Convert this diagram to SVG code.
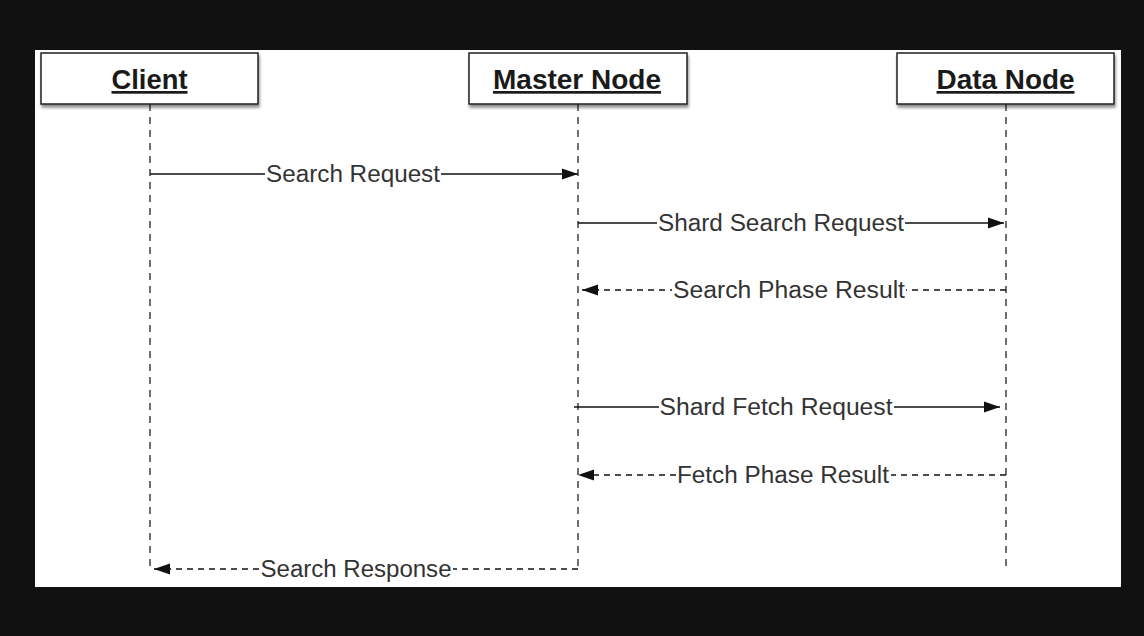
<svg xmlns="http://www.w3.org/2000/svg" width="1144" height="636" viewBox="0 0 1144 636">
<defs>
<marker id="ah" viewBox="0 0 16 12" refX="16" refY="6" markerWidth="16" markerHeight="12" markerUnits="userSpaceOnUse" orient="auto">
<path d="M0,0.5 L16,6 L0,11.5 Z" fill="#111"/>
</marker>
<filter id="sh" x="-5%" y="-10%" width="115%" height="140%">
<feGaussianBlur in="SourceAlpha" stdDeviation="1.5"/>
<feOffset dx="1" dy="3"/>
<feComponentTransfer><feFuncA type="linear" slope="0.45"/></feComponentTransfer>
<feMerge><feMergeNode/><feMergeNode in="SourceGraphic"/></feMerge>
</filter>
</defs>
<style>
.box{fill:#fff;stroke:#222;stroke-width:1.5}
.title{font-family:"Liberation Sans",Arial,sans-serif;font-size:27px;font-weight:bold;fill:#1a1a1a;text-anchor:middle;text-decoration:underline}
.life{stroke:#222;stroke-width:1.3;stroke-dasharray:7 6;fill:none}
.msg{stroke:#111;stroke-width:1.3;fill:none}
.ret{stroke:#111;stroke-width:1.3;fill:none;stroke-dasharray:6 5}
.lbl{font-family:"Liberation Sans",Arial,sans-serif;font-size:23px;fill:#333;text-anchor:middle}
.bg{fill:#fff}
</style>
<rect width="1144" height="636" fill="#111"/>
<rect x="35" y="50" width="1086" height="537" fill="#fff"/>
<g id="lifelines">
<line class="life" x1="150" y1="104" x2="150" y2="570"/>
<line class="life" x1="578" y1="104" x2="578" y2="570"/>
<line class="life" x1="1006" y1="104" x2="1006" y2="572"/>
</g>
<g id="client">
<rect class="box" x="41" y="53" width="217" height="51" filter="url(#sh)"/>
<text class="title" x="149.5" y="89" textLength="76" lengthAdjust="spacingAndGlyphs">Client</text>
</g>
<g id="master">
<rect class="box" x="469" y="53" width="218" height="51" filter="url(#sh)"/>
<text class="title" x="577" y="89" textLength="168" lengthAdjust="spacingAndGlyphs">Master Node</text>
</g>
<g id="data">
<rect class="box" x="897" y="53" width="217" height="51" filter="url(#sh)"/>
<text class="title" x="1005.5" y="89" textLength="138" lengthAdjust="spacingAndGlyphs">Data Node</text>
</g>
<g id="connectors">
<line class="msg" x1="150" y1="174" x2="578" y2="174" marker-end="url(#ah)"/>
<rect class="bg" x="265" y="162" width="176" height="24"/>
<text class="lbl" x="353" y="182" textLength="174" lengthAdjust="spacingAndGlyphs">Search Request</text>

<line class="msg" x1="578" y1="223" x2="1004" y2="223" marker-end="url(#ah)"/>
<rect class="bg" x="657" y="211" width="248" height="24"/>
<text class="lbl" x="781" y="231" textLength="246" lengthAdjust="spacingAndGlyphs">Shard Search Request</text>

<line class="ret" x1="1006" y1="290" x2="582" y2="290" marker-end="url(#ah)"/>
<rect class="bg" x="672" y="278" width="234" height="24"/>
<text class="lbl" x="789" y="298" textLength="232" lengthAdjust="spacingAndGlyphs">Search Phase Result</text>

<line class="msg" x1="574" y1="407" x2="1000" y2="407" marker-end="url(#ah)"/>
<rect class="bg" x="659" y="395" width="235" height="24"/>
<text class="lbl" x="776" y="415" textLength="233" lengthAdjust="spacingAndGlyphs">Shard Fetch Request</text>

<line class="ret" x1="1006" y1="475" x2="578" y2="475" marker-end="url(#ah)"/>
<rect class="bg" x="676" y="463" width="215" height="24"/>
<text class="lbl" x="783" y="483" textLength="212" lengthAdjust="spacingAndGlyphs">Fetch Phase Result</text>

<line class="ret" x1="578" y1="569" x2="154" y2="569" marker-end="url(#ah)"/>
<rect class="bg" x="260" y="557" width="193" height="24"/>
<text class="lbl" x="356" y="577" textLength="191" lengthAdjust="spacingAndGlyphs">Search Response</text>
</g>
</svg>
